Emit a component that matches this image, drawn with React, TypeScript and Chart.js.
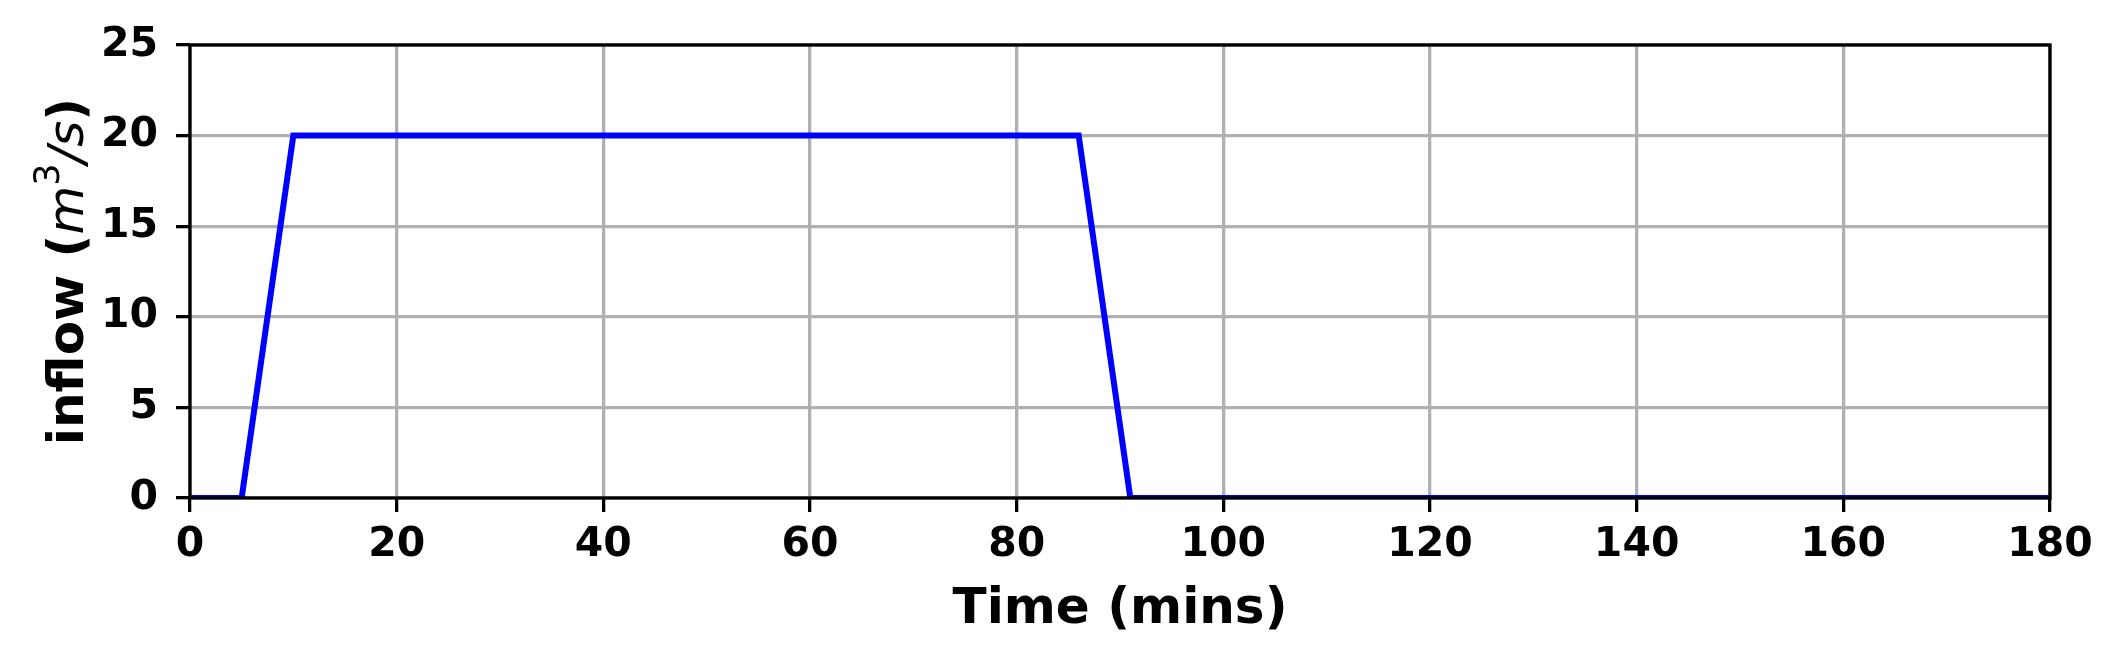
import React, { useEffect, useRef } from "react";
import { Chart, registerables } from "chart.js";

Chart.register(...registerables);

// ---- data ----
const timeMins = [0, 5, 10, 86, 91, 180];
const inflowValues = [0, 0, 20, 20, 0, 0];
const xTickValues = [0, 20, 40, 60, 80, 100, 120, 140, 160, 180];
const yTickValues = [0, 5, 10, 15, 20, 25];
const xTitle = "Time (mins)";

const W = 2123;
const H = 662;
const FAMILY = "'DejaVu Sans'";

const framePlugin = {
  id: "frame",
  afterDraw(chart: any) {
    const { ctx, chartArea } = chart;
    const { left, right, top, bottom } = chartArea;
    ctx.save();
    // spines
    ctx.strokeStyle = "#000";
    ctx.lineWidth = 3.3;
    ctx.strokeRect(left, top, right - left, bottom - top);

    // x title
    ctx.fillStyle = "#000";
    ctx.font = `bold 50px ${FAMILY}`;
    ctx.textAlign = "center";
    ctx.textBaseline = "alphabetic";
    ctx.fillText(xTitle, (left + right) / 2, 623);

    // y title with mathtext-like parts
    const segs = [
      { t: "inflow (", f: `bold 50px ${FAMILY}`, dy: 0 },
      { t: "m", f: `italic 50px ${FAMILY}`, dy: 0 },
      { t: "3", f: `35px ${FAMILY}`, dy: -24 },
      { t: "/s", f: `italic 50px ${FAMILY}`, dy: 0 },
      { t: ")", f: `bold 50px ${FAMILY}`, dy: 0 },
    ];
    let total = 0;
    const widths = segs.map((s) => {
      ctx.font = s.f;
      const w = ctx.measureText(s.t).width;
      total += w;
      return w;
    });
    ctx.translate(83, (top + bottom) / 2);
    ctx.rotate(-Math.PI / 2);
    ctx.textAlign = "left";
    let x = -total / 2;
    segs.forEach((s, i) => {
      ctx.font = s.f;
      ctx.fillText(s.t, x, s.dy);
      x += widths[i];
    });
    ctx.restore();
  },
};

export default function App() {
  const ref = useRef<HTMLCanvasElement | null>(null);

  useEffect(() => {
    document.body.style.margin = "0";
    const canvas = ref.current!;
    const chart = new Chart(canvas, {
      type: "line",
      data: {
        datasets: [
          {
            data: timeMins.map((t, i) => ({ x: t, y: inflowValues[i] })),
            borderColor: "#0000ff",
            backgroundColor: "#0000ff",
            borderWidth: 6,
            pointRadius: 0,
            tension: 0,
            fill: false,
          },
        ],
      },
      options: {
        responsive: false,
        animation: false,
        devicePixelRatio: 1,
        layout: { padding: { top: 45, right: 73, bottom: 0, left: 0 } },
        plugins: {
          legend: { display: false },
          tooltip: { enabled: false },
        },
        scales: {
          x: {
            type: "linear",
            min: 0,
            max: 180,
            afterBuildTicks: (scale: any) => {
              scale.ticks = xTickValues.map((v) => ({ value: v }));
            },
            afterFit: (scale: any) => {
              scale.height = 164;
            },
            grid: {
              color: "#b0b0b0",
              lineWidth: 3.3,
              tickColor: "#000",
              tickWidth: 3.3,
              tickLength: 14,
              drawTicks: true,
            },
            border: { display: false },
            ticks: {
              color: "#000",
              font: { family: FAMILY, size: 41, weight: "bold" },
              padding: 9,
              maxRotation: 0,
              autoSkip: false,
            },
          },
          y: {
            type: "linear",
            min: 0,
            max: 25,
            afterBuildTicks: (scale: any) => {
              scale.ticks = yTickValues.map((v) => ({ value: v }));
            },
            afterFit: (scale: any) => {
              scale.width = 190;
            },
            grid: {
              color: "#b0b0b0",
              lineWidth: 3.3,
              tickColor: "#000",
              tickWidth: 3.3,
              tickLength: 14,
              drawTicks: true,
            },
            border: { display: false },
            ticks: {
              color: "#000",
              font: { family: FAMILY, size: 41, weight: "bold" },
              padding: 18,
              autoSkip: false,
            },
          },
        },
      },
      plugins: [framePlugin],
    } as any);
    return () => chart.destroy();
  }, []);

  return (
    <canvas
      ref={ref}
      width={W}
      height={H}
      style={{ display: "block", width: W, height: H }}
    />
  );
}
